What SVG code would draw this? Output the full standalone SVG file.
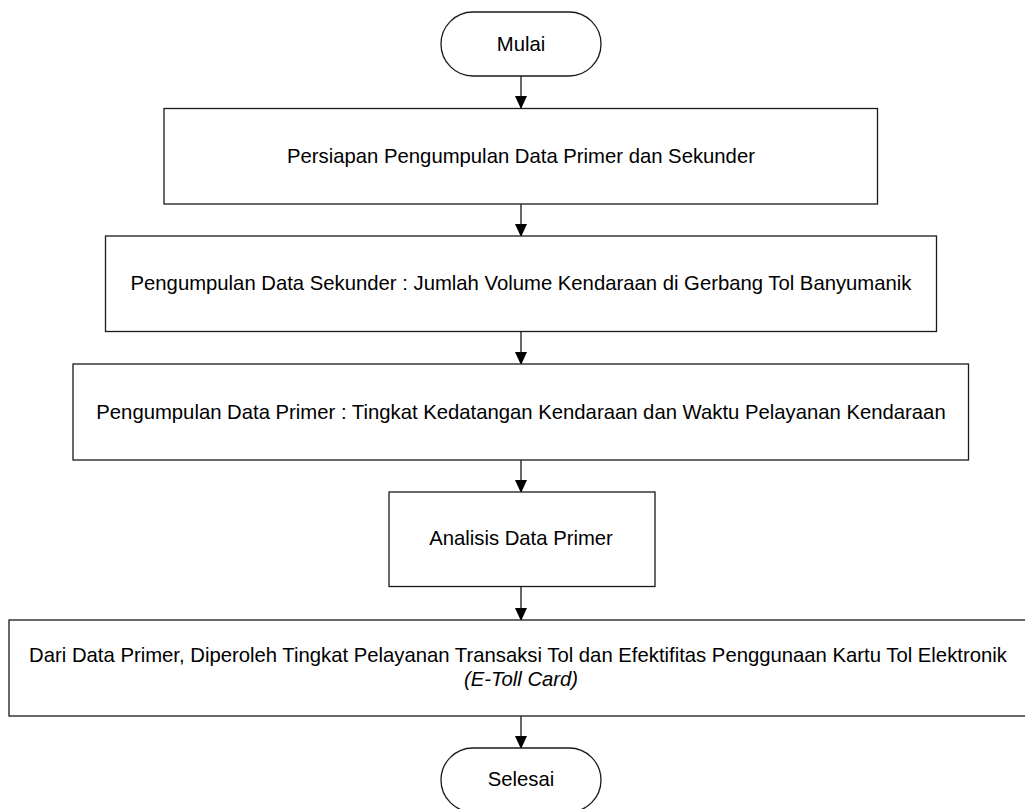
<svg xmlns="http://www.w3.org/2000/svg" width="1025" height="809" viewBox="0 0 1025 809">
<defs>
<style>
.box{fill:#fff;stroke:#1a1a1a;stroke-width:1.3}
.t{font-family:"Liberation Sans",Arial,sans-serif;font-size:20.3px;fill:#000;text-anchor:middle}
.c{stroke:#1a1a1a;stroke-width:1.3;fill:none}
.ah{fill:#000}
</style>
<marker id="arr" markerWidth="13" markerHeight="12" refX="12" refY="6" orient="auto" markerUnits="userSpaceOnUse">
<path d="M0,0 L13,6 L0,12 Z" class="ah"/>
</marker>
</defs>
<rect width="1025" height="809" fill="#fff"/>
<g id="connectors">
<line class="c" x1="521" y1="76" x2="521" y2="108" marker-end="url(#arr)"/>
<line class="c" x1="521" y1="204" x2="521" y2="236" marker-end="url(#arr)"/>
<line class="c" x1="521" y1="332" x2="521" y2="364" marker-end="url(#arr)"/>
<line class="c" x1="521" y1="460" x2="521" y2="492" marker-end="url(#arr)"/>
<line class="c" x1="521" y1="587" x2="521" y2="620" marker-end="url(#arr)"/>
<line class="c" x1="521" y1="716" x2="521" y2="748" marker-end="url(#arr)"/>
</g>
<g id="mulai">
<rect class="box" x="441" y="12" width="160" height="64" rx="32" ry="32"/>
<text class="t" x="521" y="51">Mulai</text>
</g>
<g id="persiapan">
<rect class="box" x="164" y="108.5" width="713.5" height="95.5"/>
<text class="t" x="521" y="163">Persiapan Pengumpulan Data Primer dan Sekunder</text>
</g>
<g id="sekunder">
<rect class="box" x="105.5" y="236" width="831" height="95.5"/>
<text class="t" x="521" y="290">Pengumpulan Data Sekunder : Jumlah Volume Kendaraan di Gerbang Tol Banyumanik</text>
</g>
<g id="primer">
<rect class="box" x="73" y="364" width="895.5" height="96"/>
<text class="t" x="521" y="419">Pengumpulan Data Primer : Tingkat Kedatangan Kendaraan dan Waktu Pelayanan Kendaraan</text>
</g>
<g id="analisis">
<rect class="box" x="389" y="492" width="266" height="94.5"/>
<text class="t" x="521" y="545">Analisis Data Primer</text>
</g>
<g id="hasil">
<rect class="box" x="9" y="620" width="1030" height="96"/>
<text class="t" x="518" y="662">Dari Data Primer, Diperoleh Tingkat Pelayanan Transaksi Tol dan Efektifitas Penggunaan Kartu Tol Elektronik</text>
<text class="t" x="521" y="686" font-style="italic">(E-Toll Card)</text>
</g>
<g id="selesai">
<rect class="box" x="441" y="748" width="160" height="64" rx="32" ry="32"/>
<text class="t" x="521" y="786">Selesai</text>
</g>
</svg>
